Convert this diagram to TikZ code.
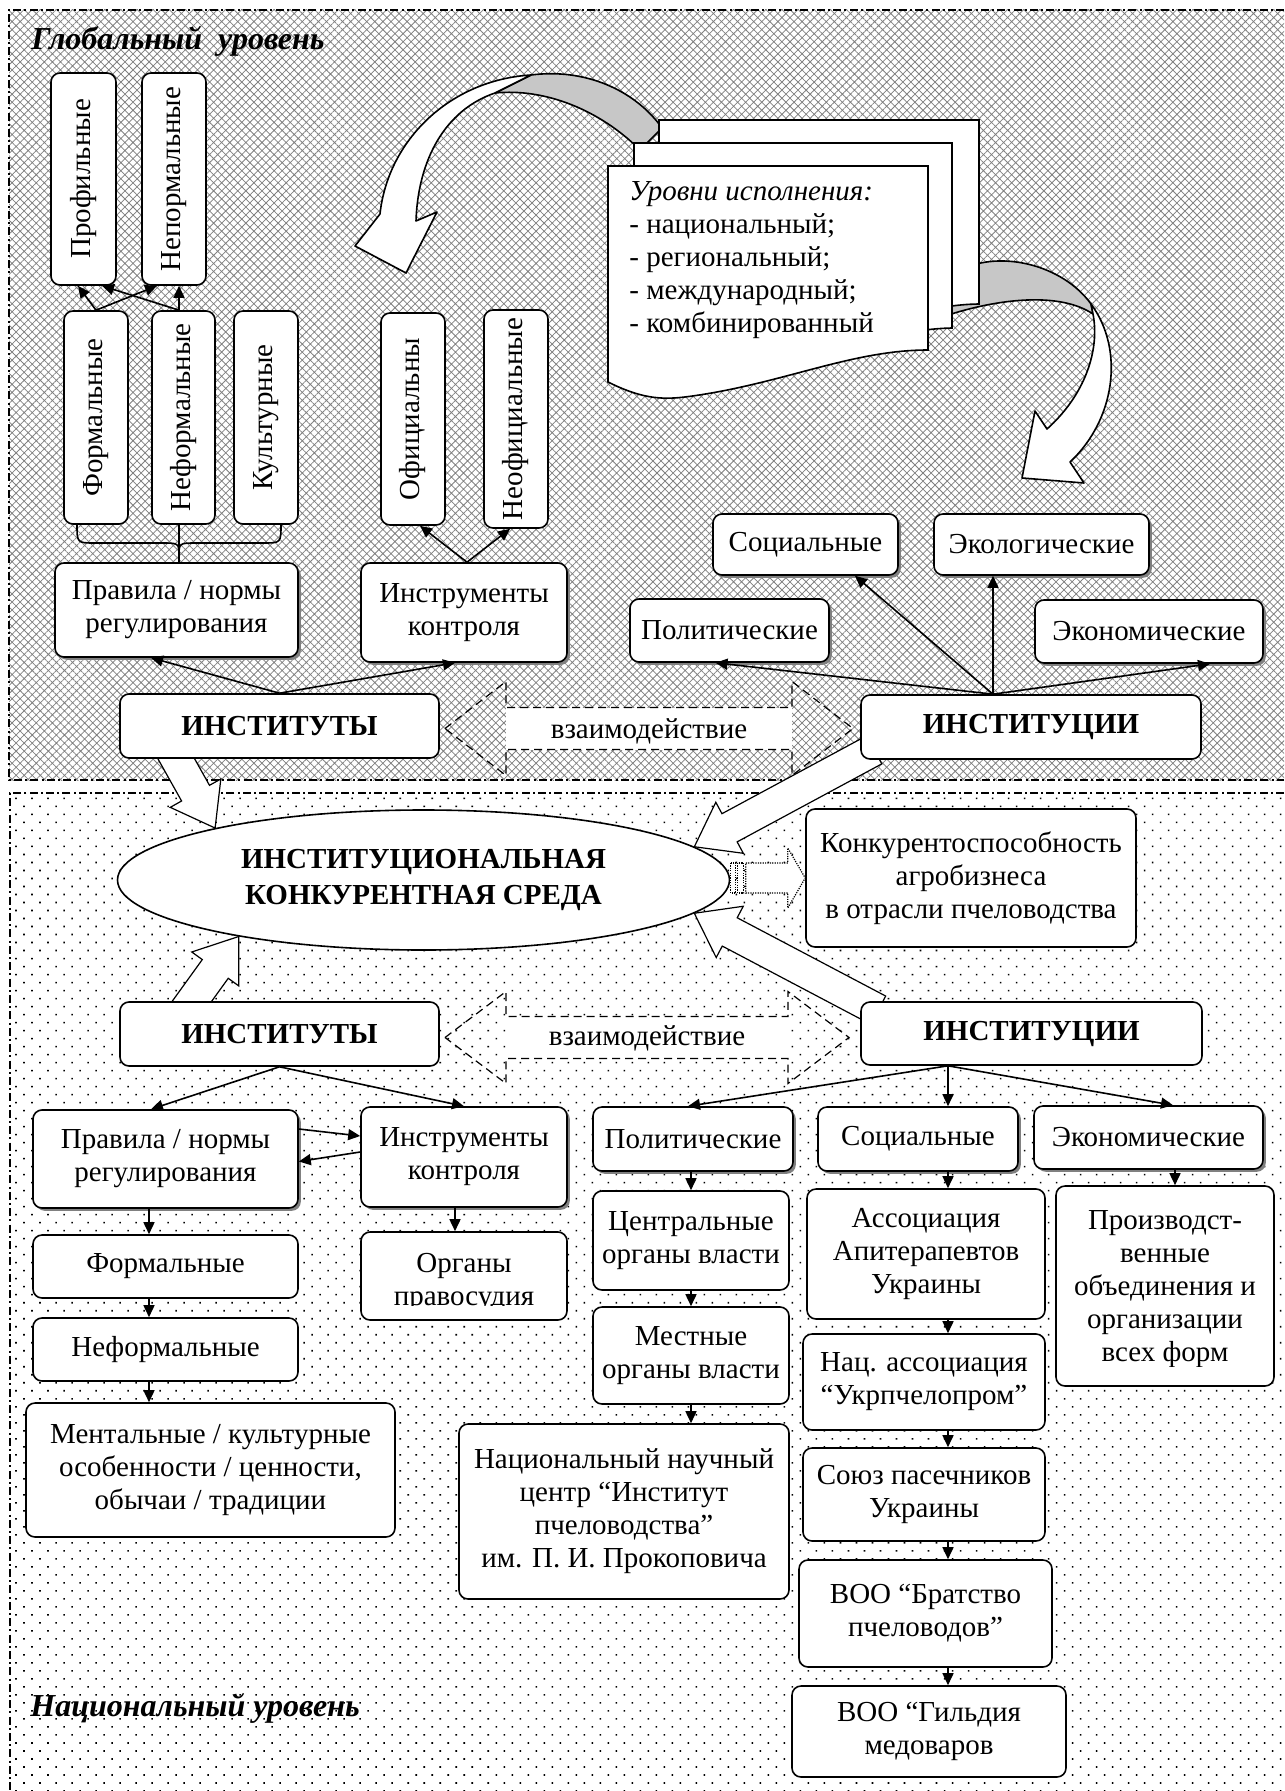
\documentclass[tikz,border=0pt]{standalone}
\usepackage{fontspec}
\setmainfont{Liberation Serif}
\usetikzlibrary{shapes.geometric,arrows.meta,calc,patterns.meta,shadows}
\pgfdeclarelayer{back}
\pgfdeclarelayer{mid}
\pgfsetlayers{back,mid,main}
\newcommand\bx[7][]{%
  \pgfmathsetmacro\bxw{(#4-#2)*0.5}%
  \pgfmathsetmacro\bxh{(#5-#3)*0.5}%
  \pgfmathsetmacro\bxcx{(#2+#4)/2}%
  \pgfmathsetmacro\bxcy{(#3+#5)/2}%
  \node[box,minimum width=\bxw pt,minimum height=\bxh pt,#1] (#6) at (\bxcx,\bxcy) {#7};}
\newcommand\vt[1]{\rotatebox{90}{#1}}
\newcommand\blockarrow[2]{%
  \draw[blk] let \p1=(#1), \p2=(#2), \n1={atan2(\y2-\y1,\x2-\x1)},
    \p3=($(\p2)+(\n1+180:20pt)$) in
    ($(\p1)+(\n1+90:8pt)$) -- ($(\p3)+(\n1+90:8pt)$) -- ($(\p3)+(\n1+90:14.5pt)$) -- (\p2)
    -- ($(\p3)+(\n1-90:14.5pt)$) -- ($(\p3)+(\n1-90:8pt)$) -- ($(\p1)+(\n1-90:8pt)$) -- cycle;}
\begin{document}
\begin{tikzpicture}[x=0.5pt,y=-0.5pt,
  font=\fontsize{14.5}{16.5}\selectfont,
  box/.style={draw,line width=0.8pt,rounded corners=4.5pt,fill=white,align=center,inner sep=0pt},
  shd/.style={drop shadow={shadow xshift=1.4pt,shadow yshift=-1.4pt,fill=black!50,opacity=1}},
  arr/.style={line width=0.8pt,-{Triangle[length=6pt,width=5.5pt]}},
  blk/.style={draw,line width=0.6pt,fill=white},
  region/.style={line width=0.7pt,dash pattern=on 4pt off 1.6pt on 1pt off 1.6pt},
  inter/.style={draw,line width=0.6pt,dash pattern=on 4pt off 2.5pt},
  dotl/.style={draw,line width=0.6pt,dash pattern=on 0.6pt off 0.6pt,fill=white},
  ribw/.style={draw,line width=0.8pt,fill=white,line join=round},
  ribg/.style={draw,line width=0.8pt,fill=black!22,line join=round},
  docst/.style={draw,line width=0.8pt,fill=white},
  lvl/.style={font=\fontsize{16}{19}\selectfont\bfseries\itshape,inner sep=0pt,anchor=base west},
  bold/.style={font=\fontsize{14.5}{16.5}\selectfont\bfseries},
]
\useasboundingbox (0,0) rectangle (1284,1791);
\begin{pgfonlayer}{back}
 \fill[white] (0,0) rectangle (1284,1791);
 \path[pattern={Hatch[angle=45,distance=2.85pt,line width=0.38pt]},pattern color=black!50] (9,10) rectangle (1284,780);
 \path[pattern={Dots[angle=45,distance=5.66pt,radius=0.55pt]},pattern color=black] (10,793) rectangle (1284,1791);
 \draw[region] (1284,10) -- (9,10) -- (9,780) -- (1284,780);
 \draw[region] (1284,793) -- (10,793) -- (10,1791);
\end{pgfonlayer}

\node[lvl] (glob) at (31,50) {Глобальный\ \ уровень};
\node[lvl] (natl) at (30,1716) {Национальный уровень};

% ribbons and documents
\draw[ribg] (531,75) .. controls (585,68) and (635,90) .. (662,128) -- (640,150) .. controls (600,110) and (545,88) .. (495,93) -- cycle;
\draw[ribg] (970,266) .. controls (1010,252) and (1065,268) .. (1091,304) -- (1093,314) .. controls (1060,292) and (1000,298) .. (945,316) -- cycle;
\draw[docst] (659,120) -- (979,120) -- (979,304) .. controls (880,305) and (780,380) .. (659,360) -- cycle;
\draw[docst] (634,143) -- (952,143) -- (952,328) .. controls (850,330) and (760,400) .. (634,380) -- cycle;
\draw[docst] (608,166) -- (928,166) -- (928,350) .. controls (850,350) and (780,385) .. (685,397) .. controls (660,400) and (640,398) .. (608,382) -- cycle;
\node[anchor=north west,align=left,inner sep=0pt] (doctext) at (629,181) {\textit{Уровни исполнения:}\\- национальный;\\- региональный;\\- международный;\\- комбинированный};
\draw[ribw] (531,75) .. controls (450,80) and (388,140) .. (380,214) -- (355,246) -- (406,273) -- (437,212) -- (416,221) .. controls (418,160) and (445,110) .. (495,93) -- cycle;
\draw[ribw] (1091,304) .. controls (1125,350) and (1115,420) .. (1070,462) -- (1084,483) -- (1022,478) -- (1035,411) -- (1047,429) .. controls (1085,395) and (1100,350) .. (1093,314) -- cycle;

% global boxes
\bx{51}{73}{116}{285}{prof}{\vt{Профильные}}
\bx{142}{73}{206}{285}{neporm}{\vt{Непормальные}}
\bx{64}{311}{128}{524}{form1}{\vt{Формальные}}
\bx{152}{311}{215}{524}{neform1}{\vt{Неформальные}}
\bx{234}{311}{298}{524}{cult1}{\vt{Культурные}}
\bx{381}{313}{445}{525}{ofic}{\vt{Официальны}}
\bx{484}{310}{548}{528}{neofic}{\vt{Неофициальные}}
\bx[shd]{55}{563}{298}{657}{prav1}{Правила / нормы\\регулирования}
\bx[shd]{361}{563}{567}{662}{instr1}{Инструменты\\контроля}
\bx[bold]{120}{694}{439}{758}{inst1}{ИНСТИТУТЫ}
\bx[shd]{713}{514}{898}{575}{soc1}{Социальные}
\bx[shd]{934}{514}{1149}{575}{ecol1}{Экологические}
\bx[shd]{630}{599}{829}{662}{pol1}{Политические}
\bx[shd]{1035}{600}{1263}{663}{econ1}{Экономические}
\bx[bold]{861}{695}{1201}{759}{instc1}{ИНСТИТУЦИИ}

% ellipse and result
\node[draw,ellipse,line width=0.8pt,fill=white,minimum width=306pt,minimum height=70pt,inner sep=0pt,align=center,font=\fontsize{14.5}{18.3}\selectfont\bfseries] (ell) at (423.5,880) {ИНСТИТУЦИОНАЛЬНАЯ\\КОНКУРЕНТНАЯ СРЕДА};
\bx{806}{809}{1136}{947}{konk}{Конкурентоспособность\\агробизнеса\\в отрасли пчеловодства}

% national boxes
\bx[bold]{120}{1002}{439}{1066}{inst2}{ИНСТИТУТЫ}
\bx[bold]{861}{1002}{1202}{1065}{instc2}{ИНСТИТУЦИИ}
\bx[shd]{33}{1110}{298}{1208}{prav2}{Правила / нормы\\регулирования}
\bx[shd]{361}{1107}{567}{1207}{instr2}{Инструменты\\контроля}
\bx{33}{1235}{298}{1298}{form2}{Формальные}
\bx{33}{1318}{298}{1381}{neform2}{Неформальные}
\bx{26}{1403}{395}{1537}{ment}{Ментальные / культурные\\особенности / ценности,\\обычаи / традиции}
\bx{361}{1232}{567}{1320}{organy}{}
\bx[shd]{593}{1107}{793}{1171}{pol2}{Политические}
\bx[shd]{818}{1107}{1018}{1171}{soc2}{Социальные}
\bx[shd]{1034}{1106}{1263}{1169}{econ2}{Экономические}
\bx{593}{1191}{789}{1290}{central}{Центральные\\органы власти}
\bx{593}{1307}{789}{1404}{mestn}{Местные\\органы власти}
\bx{459}{1424}{789}{1599}{nac}{Национальный научный\\центр “Институт\\пчеловодства”\\им. П. И. Прокоповича}
\bx{807}{1189}{1045}{1319}{assoc}{Ассоциация\\Апитерапевтов\\Украины}
\bx{803}{1334}{1045}{1430}{nacas}{Нац. ассоциация\\“Укрпчелопром”}
\bx{803}{1448}{1045}{1541}{soyuz}{Союз пасечников\\Украины}
\bx{799}{1560}{1052}{1667}{brat}{ВОО “Братство\\пчеловодов”}
\bx{792}{1686}{1066}{1777}{gild}{ВОО “Гильдия\\медоваров}
\bx{1056}{1186}{1274}{1386}{proizv}{}
\begin{scope}
 \clip (361,1232) rectangle (567,1305);
 \node[anchor=north,align=center,inner sep=0pt] (organyt) at (464,1253) {Органы\\правосудия};
\end{scope}
\begin{scope}
 \clip (1056,1186) rectangle (1274,1366);
 \node[anchor=north,align=center,inner sep=0pt] (proizvt) at (1165,1210) {Производст-\\венные\\объединения и\\организации\\всех форм};
\end{scope}

% block arrows to the ellipse
\coordinate (a1s) at ($(inst1.south west)!0.157!(inst1.south east)+(0pt,6pt)$);
\coordinate (a1e) at (ell.166);
\coordinate (a2s) at ($(instc1.south west)+(7pt,5pt)$);
\coordinate (a2e) at (ell.7);
\coordinate (a3s) at ($(inst2.north west)!0.2!(inst2.north east)+(0pt,-6pt)$);
\coordinate (a3e) at (ell.197);
\coordinate (a4s) at ($(instc2.north west)+(9pt,-4.5pt)$);
\coordinate (a4e) at (ell.353);
\begin{pgfonlayer}{mid}
\blockarrow{a1s}{a1e}
\blockarrow{a2s}{a2e}
\blockarrow{a3s}{a3e}
\blockarrow{a4s}{a4e}
\end{pgfonlayer}

% interaction arrows
\fill[white] (506,707.5) rectangle (792,749.5);
\draw[inter] (445,728.5) -- (506,681.5) -- (506,707.5) -- (792,707.5) -- (792,681.5) -- (853,728.5) -- (792,775.5) -- (792,749.5) -- (506,749.5) -- (506,775.5) -- cycle;
\node[inner sep=0pt,anchor=base] (int1) at (649,738) {взаимодействие};
\fill[white] (506,1016.5) rectangle (788,1058.5);
\draw[inter] (445,1037.5) -- (506,991.5) -- (506,1016.5) -- (788,1016.5) -- (788,991.5) -- (849,1037.5) -- (788,1083.5) -- (788,1058.5) -- (506,1058.5) -- (506,1083.5) -- cycle;
\node[inner sep=0pt,anchor=base] (int2) at (647,1045) {взаимодействие};

% striped arrow ellipse -> konk
\draw[dotl] ($(ell.east)+(0pt,8.5pt)$) rectangle ($(ell.east)+(2.75pt,-6.5pt)$);
\draw[dotl] ($(ell.east)+(3.75pt,8.5pt)$) rectangle ($(ell.east)+(6.75pt,-6.5pt)$);
\draw[dotl] ($(ell.east)+(7.75pt,8.5pt)$) -- ($(ell.east)+(28.75pt,8.5pt)$) -- ($(ell.east)+(28.75pt,16pt)$) -- (konk.west) -- ($(ell.east)+(28.75pt,-14pt)$) -- ($(ell.east)+(28.75pt,-6.5pt)$) -- ($(ell.east)+(7.75pt,-6.5pt)$) -- cycle;

% global connectors
\draw[arr] (form1.north) -- ([xshift=-2.75pt]prof.south);
\draw[arr] (form1.north) -- ([xshift=-8.5pt]neporm.south);
\draw[arr] ([xshift=-2.25pt]neform1.north) -- ([xshift=2.5pt]neporm.south);
\draw[arr] ([xshift=-2.25pt]neform1.north) -- ([xshift=9.25pt]prof.south);
\draw[line width=0.8pt] (77,524) .. controls (77,543) .. (95,543) -- (161,543) .. controls (179,543) .. (179,556);
\draw[line width=0.8pt] (281,524) .. controls (281,543) .. (263,543) -- (197,543) .. controls (179,543) .. (179,556);
\draw[line width=0.8pt] ([xshift=-2.25pt]neform1.south) -- ([xshift=1.25pt]prav1.north);
\draw[arr] ([xshift=1.5pt]instr1.north) -- ([xshift=3.5pt]ofic.south);
\draw[arr] ([xshift=1.5pt]instr1.north) -- ([xshift=-3pt]neofic.south);
\draw[arr] (inst1.north) -- ([xshift=-12.75pt]prav1.south);
\draw[arr] (inst1.north) -- ([xshift=-4.5pt]instr1.south);
\draw[arr] ([xshift=-19pt]instc1.north) -- ([xshift=-7pt]pol1.south);
\draw[arr] ([xshift=-19pt]instc1.north) -- ([xshift=24.75pt]soc1.south);
\draw[arr] ([xshift=-19pt]instc1.north) -- ([xshift=-24.25pt]ecol1.south);
\draw[arr] ([xshift=-19pt]instc1.north) -- ([xshift=30.5pt]econ1.south);

% national connectors
\draw[arr] (inst2.south) -- ([xshift=-7.25pt]prav2.north);
\draw[arr] (inst2.south) -- (instr2.north);
\draw[arr] ([yshift=15pt]prav2.east) -- ([yshift=10.5pt]instr2.west);
\draw[arr] ([yshift=2.5pt]instr2.west) -- ([yshift=-1.25pt]prav2.east);
\draw[arr] ([xshift=-8.25pt]prav2.south) -- ([xshift=-8.25pt]form2.north);
\draw[arr] ([xshift=-8.25pt]form2.south) -- ([xshift=-8.25pt]neform2.north);
\draw[arr] ([xshift=-8.25pt]neform2.south) -- ([xshift=-30.75pt]ment.north);
\draw[arr] ([xshift=-4.5pt]instr2.south) -- ([xshift=-4.5pt]organy.north);
\draw[arr] ([xshift=-41.75pt]instc2.south) -- ([xshift=-2.5pt]pol2.north);
\draw[arr] ([xshift=-41.75pt]instc2.south) -- ([xshift=15pt]soc2.north);
\draw[arr] ([xshift=-41.75pt]instc2.south) -- ([xshift=12.25pt]econ2.north);
\draw[arr] ([xshift=-1pt]pol2.south) -- (central.north);
\draw[arr] (central.south) -- (mestn.north);
\draw[arr] (mestn.south) -- ([xshift=33.5pt]nac.north);
\draw[arr] ([xshift=15pt]soc2.south) -- ([xshift=11pt]assoc.north);
\draw[arr] ([xshift=11pt]assoc.south) -- ([xshift=12pt]nacas.north);
\draw[arr] ([xshift=12pt]nacas.south) -- ([xshift=12pt]soyuz.north);
\draw[arr] ([xshift=12pt]soyuz.south) -- ([xshift=11.25pt]brat.north);
\draw[arr] ([xshift=11.25pt]brat.south) -- ([xshift=9.5pt]gild.north);
\draw[arr] ([xshift=13.25pt]econ2.south) -- ([xshift=5pt]proizv.north);
\end{tikzpicture}
\end{document}
